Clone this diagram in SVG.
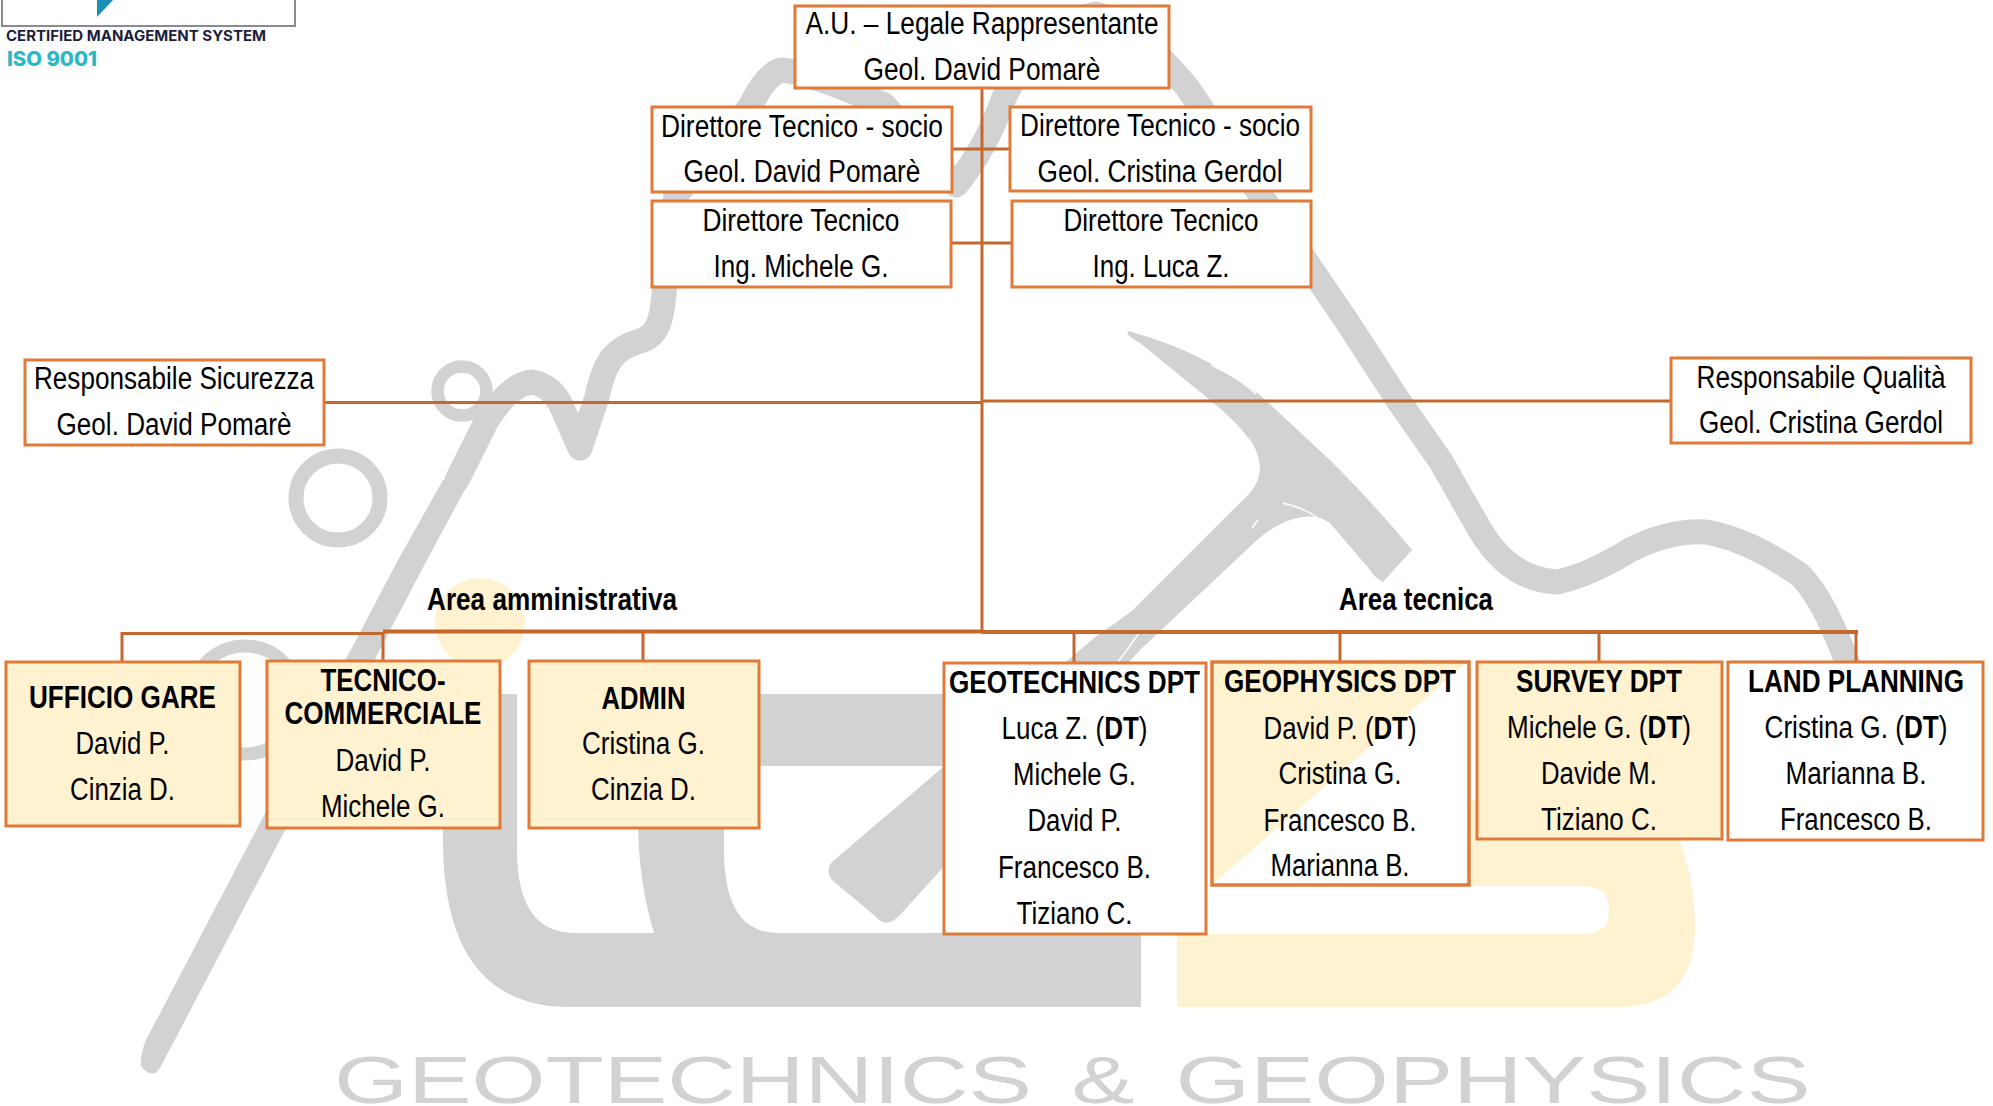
<svg xmlns="http://www.w3.org/2000/svg" width="1993" height="1106" viewBox="0 0 1993 1106">
<style>
text{font-family:"Liberation Sans",Arial,sans-serif;fill:#000;text-anchor:middle;font-size:31px}
.b{font-weight:700}
.box{stroke:#e07a38;stroke-width:3;fill:#fff}
.y{fill:#fff2d0}
.wm{fill:none;stroke:#d2d2d2;stroke-linecap:round;stroke-linejoin:round}
.g{fill:#d2d2d2}
.big{font-size:67px;fill:#d2d2d2}
.c{stroke:#c4682e;fill:none;stroke-width:3}
.t{stroke-width:4}
.slit{fill:none;stroke:#fff;stroke-width:1.500}
</style>
<rect width="1993" height="1106" fill="#fff"/>
<g id="watermark">
<path class="y" d="M1177,1007V934H1583Q1609,934 1609,910Q1609,886 1583,886H1400V800H1660Q1695,860 1695,925Q1695,1007 1620,1007Z"/>
<circle class="y" cx="480" cy="623" r="45"/>
<path class="g" d="M443,694H517V850Q517,933 575,933H654Q638,880 638,820V694H960V766H765Q724,766 724,800V850Q724,933 778,933H1141V1007H570Q443,1007 443,840Z"/>
<path class="g" d="M1128,331Q1170,342 1210,363Q1240,380 1260,395L1333,463Q1375,505 1412,550L1383,582Q1375,578 1370,570L1330,523Q1318,515 1303,517Q1280,520 1257,540L1140,650L900,915Q886,930 875,916L832,880Q825,870 832,862L1100,633Q1118,622 1133,610L1243,500Q1260,485 1260,467Q1258,450 1250,440Q1235,420 1210,400L1140,343Q1125,335 1128,331Z"/>
<path class="slit" d="M1140,632L1118,662M1211,365Q1240,378 1256,394M1283,503Q1305,508 1321,520M1252,528L1258,520"/>
<path class="wm" stroke-width="25" d="M457,480L487,420Q510,384 532,382Q550,385 560,403L580,448L597,397C605,360 615,348 640,341C658,336 663,320 665,280L676,195L750,107Q765,75 781,70Q810,72 884,105Q925,150 956,185Q985,150 1003,100Q1035,30 1095,14Q1130,20 1187,87L1346,320L1398,400L1440,460L1480,530Q1510,580 1557,582Q1590,575 1630,550Q1670,530 1706,532Q1750,540 1800,575Q1825,600 1850,670"/>
<path class="g" d="M443,480H470L427,560L160,1068Q152,1080 141,1066Q140,1055 146,1040L398,560Z"/>
<circle class="wm" cx="462" cy="391" r="24.500" stroke-width="12.500"/>
<circle class="wm" cx="338" cy="498" r="42" stroke-width="15"/>
<circle class="wm" cx="245" cy="700" r="54" stroke-width="13"/>
<text class="big" x="683" y="1103" textLength="698" lengthAdjust="spacingAndGlyphs">GEOTECHNICS</text>
<text class="big" x="1103" y="1103" textLength="63" lengthAdjust="spacingAndGlyphs">&amp;</text>
<text class="big" x="1493" y="1103" textLength="635" lengthAdjust="spacingAndGlyphs">GEOPHYSICS</text>
</g>
<g id="iso-logo">
<rect x="2" y="-5" width="293" height="31" fill="#fff" stroke="#8a8a92" stroke-width="2"/>
<path d="M97,0H113L97,17Z" fill="#1b8fb5"/>
<text x="136" y="41" textLength="260" lengthAdjust="spacingAndGlyphs" class="b" style="font-family:Inter,sans-serif;font-size:14px;fill:#1c1c3c">CERTIFIED MANAGEMENT SYSTEM</text>
<text x="52" y="66" textLength="90" lengthAdjust="spacingAndGlyphs" class="b" style="font-family:Inter,sans-serif;font-weight:800;font-size:19.500px;fill:#2bb8c6">ISO 9001</text>
</g>
<g id="connectors">
<path class="c" d="M982,88V632M952,149H1010M951,243H1012M324,402.500H982M982,401H1671"/>
<path class="c t" d="M383,631.500H982"/>
<path class="c" d="M122,662V633.500H383"/>
<path class="c" d="M383,632V661M643,632V661M1074,632V663M1340,632V662M1599,632V662M1856,632V662"/>
<path class="c t" d="M982,632H1858"/>
</g>
<g id="au"><rect class="box" x="795" y="6" width="374" height="82"/>
<text x="982" y="34" textLength="353" lengthAdjust="spacingAndGlyphs">A.U. – Legale Rappresentante</text>
<text x="982" y="80" textLength="237" lengthAdjust="spacingAndGlyphs">Geol. David Pomarè</text></g>
<g id="dt-socio-1"><rect class="box" x="652" y="107" width="300" height="85"/>
<text x="802" y="137" textLength="282" lengthAdjust="spacingAndGlyphs">Direttore Tecnico - socio</text>
<text x="802" y="182" textLength="237" lengthAdjust="spacingAndGlyphs">Geol. David Pomarè</text></g>
<g id="dt-socio-2"><rect class="box" x="1010" y="107" width="301" height="84"/>
<text x="1160" y="136" textLength="280" lengthAdjust="spacingAndGlyphs">Direttore Tecnico - socio</text>
<text x="1160" y="182" textLength="245" lengthAdjust="spacingAndGlyphs">Geol. Cristina Gerdol</text></g>
<g id="dt-1"><rect class="box" x="652" y="201" width="299" height="86"/>
<text x="801" y="231" textLength="197" lengthAdjust="spacingAndGlyphs">Direttore Tecnico</text>
<text x="801" y="277" textLength="175" lengthAdjust="spacingAndGlyphs">Ing. Michele G.</text></g>
<g id="dt-2"><rect class="box" x="1012" y="201" width="299" height="86"/>
<text x="1161" y="231" textLength="195" lengthAdjust="spacingAndGlyphs">Direttore Tecnico</text>
<text x="1161" y="277" textLength="137" lengthAdjust="spacingAndGlyphs">Ing. Luca Z.</text></g>
<g id="sicurezza"><rect class="box" x="25" y="360" width="299" height="85"/>
<text x="174" y="389" textLength="280" lengthAdjust="spacingAndGlyphs">Responsabile Sicurezza</text>
<text x="174" y="435" textLength="235" lengthAdjust="spacingAndGlyphs">Geol. David Pomarè</text></g>
<g id="qualita"><rect class="box" x="1671" y="358" width="300" height="85"/>
<text x="1821" y="388" textLength="249" lengthAdjust="spacingAndGlyphs">Responsabile Qualità</text>
<text x="1821" y="433" textLength="244" lengthAdjust="spacingAndGlyphs">Geol. Cristina Gerdol</text></g>
<g id="area-amm"><text class="b" x="552" y="610" textLength="250" lengthAdjust="spacingAndGlyphs">Area amministrativa</text></g>
<g id="area-tec"><text class="b" x="1416" y="610" textLength="154" lengthAdjust="spacingAndGlyphs">Area tecnica</text></g>
<g id="gare"><rect class="box y" x="6" y="662" width="234" height="164"/>
<text class="b" x="122.500" y="708" textLength="187" lengthAdjust="spacingAndGlyphs">UFFICIO GARE</text>
<text x="122.500" y="754" textLength="94" lengthAdjust="spacingAndGlyphs">David P.</text>
<text x="122.500" y="800" textLength="105" lengthAdjust="spacingAndGlyphs">Cinzia D.</text></g>
<g id="tecnico"><rect class="box y" x="267" y="661" width="233" height="167"/>
<text class="b" x="383" y="691" textLength="125" lengthAdjust="spacingAndGlyphs">TECNICO-</text>
<text class="b" x="383" y="724" textLength="197" lengthAdjust="spacingAndGlyphs">COMMERCIALE</text>
<text x="383" y="771" textLength="95" lengthAdjust="spacingAndGlyphs">David P.</text>
<text x="383" y="817" textLength="124" lengthAdjust="spacingAndGlyphs">Michele G.</text></g>
<g id="admin"><rect class="box y" x="529" y="661" width="230" height="167"/>
<text class="b" x="643.500" y="709" textLength="84" lengthAdjust="spacingAndGlyphs">ADMIN</text>
<text x="643.500" y="754" textLength="123" lengthAdjust="spacingAndGlyphs">Cristina G.</text>
<text x="643.500" y="800" textLength="105" lengthAdjust="spacingAndGlyphs">Cinzia D.</text></g>
<g id="geotechnics"><rect class="box" x="944" y="663" width="262" height="271"/>
<text class="b" x="1074.500" y="693" textLength="251" lengthAdjust="spacingAndGlyphs">GEOTECHNICS DPT</text>
<text x="1074.500" y="739" textLength="146" lengthAdjust="spacingAndGlyphs">Luca Z. (<tspan class="b">DT</tspan>)</text>
<text x="1074.500" y="785" textLength="123" lengthAdjust="spacingAndGlyphs">Michele G.</text>
<text x="1074.500" y="831" textLength="94" lengthAdjust="spacingAndGlyphs">David P.</text>
<text x="1074.500" y="878" textLength="153" lengthAdjust="spacingAndGlyphs">Francesco B.</text>
<text x="1074.500" y="924" textLength="116" lengthAdjust="spacingAndGlyphs">Tiziano C.</text></g>
<g id="geophysics"><rect class="box" x="1212" y="662" width="257" height="223"/>
<path class="y" d="M1214,664H1465L1214,883Z"/><path d="M1212,662H1469V885H1212Z" fill="none" stroke="#e07a38" stroke-width="3"/>
<text class="b" x="1340" y="692" textLength="232" lengthAdjust="spacingAndGlyphs">GEOPHYSICS DPT</text>
<text x="1340" y="739" textLength="153" lengthAdjust="spacingAndGlyphs">David P. (<tspan class="b">DT</tspan>)</text>
<text x="1340" y="784" textLength="123" lengthAdjust="spacingAndGlyphs">Cristina G.</text>
<text x="1340" y="831" textLength="153" lengthAdjust="spacingAndGlyphs">Francesco B.</text>
<text x="1340" y="876" textLength="139" lengthAdjust="spacingAndGlyphs">Marianna B.</text></g>
<g id="survey"><rect class="box y" x="1477" y="662" width="245" height="177"/>
<text class="b" x="1599" y="692" textLength="166" lengthAdjust="spacingAndGlyphs">SURVEY DPT</text>
<text x="1599" y="738" textLength="184" lengthAdjust="spacingAndGlyphs">Michele G. (<tspan class="b">DT</tspan>)</text>
<text x="1599" y="784" textLength="116" lengthAdjust="spacingAndGlyphs">Davide M.</text>
<text x="1599" y="830" textLength="116" lengthAdjust="spacingAndGlyphs">Tiziano C.</text></g>
<g id="land"><rect class="box" x="1728" y="662" width="255" height="178"/>
<text class="b" x="1856" y="692" textLength="216" lengthAdjust="spacingAndGlyphs">LAND PLANNING</text>
<text x="1856" y="738" textLength="183" lengthAdjust="spacingAndGlyphs">Cristina G. (<tspan class="b">DT</tspan>)</text>
<text x="1856" y="784" textLength="141" lengthAdjust="spacingAndGlyphs">Marianna B.</text>
<text x="1856" y="830" textLength="152" lengthAdjust="spacingAndGlyphs">Francesco B.</text></g>
</svg>
